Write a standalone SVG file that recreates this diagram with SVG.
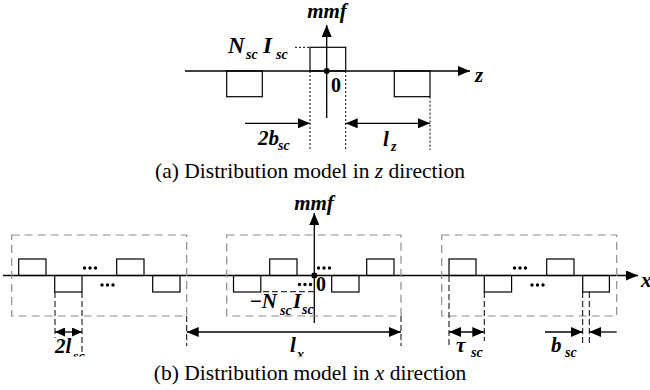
<svg xmlns="http://www.w3.org/2000/svg" width="650" height="390" viewBox="0 0 650 390">
<style>
.ln{stroke:#000;stroke-width:1.3;fill:none}
.sq{stroke:#000;stroke-width:1.2;fill:none}
.dot{stroke:#000;stroke-width:1;stroke-dasharray:2 2;fill:none}
.dsh{stroke:#000;stroke-width:1;stroke-dasharray:6 3;fill:none}
.box{stroke:#8c8c8c;stroke-width:1.2;stroke-dasharray:8 5;fill:none}
.lb{font-family:"Liberation Serif",serif;font-weight:bold;font-style:italic;font-size:21px;fill:#000}
.lg{font-family:"Liberation Serif",serif;font-weight:bold;font-style:italic;font-size:23px;fill:#000}
.sb{font-family:"Liberation Serif",serif;font-weight:bold;font-style:italic;font-size:14px;fill:#000}
.cap{font-family:"Liberation Serif",serif;font-size:21.5px;fill:#000}
.num{font-family:"Liberation Serif",serif;font-weight:bold;font-size:20px;fill:#000}
</style>
<defs>
<marker id="ah" viewBox="0 0 12 10" refX="12" refY="5" markerWidth="12" markerHeight="10" markerUnits="userSpaceOnUse" orient="auto-start-reverse"><path d="M0,0L12,5L0,10z" fill="#000"/></marker>
<marker id="ahs" viewBox="0 0 10 9" refX="10" refY="4.5" markerWidth="10" markerHeight="9" markerUnits="userSpaceOnUse" orient="auto-start-reverse"><path d="M0,0L10,4.5L0,9z" fill="#000"/></marker>
</defs>
<rect width="650" height="390" fill="#fff"/>

<!-- Part (a) -->
<g id="partA-axes">
<line class="ln" x1="185" y1="71" x2="470" y2="71" marker-end="url(#ah)"/>
<line class="ln" x1="326.7" y1="118" x2="326.7" y2="25" marker-end="url(#ah)"/>
<circle cx="326.7" cy="71" r="3" fill="#000"/>
<text class="lb" x="327" y="18" text-anchor="middle">mmf</text>
<text class="lb" x="475" y="82">z</text>
<text class="num" x="331" y="92">0</text>
</g>
<g id="partA-pulses">
<rect class="sq" x="310" y="47.3" width="35.7" height="23.7"/>
<rect class="sq" x="226.7" y="71" width="35.6" height="25.7"/>
<rect class="sq" x="394.3" y="71" width="35.7" height="25.7"/>
<line class="dot" x1="295" y1="47.3" x2="310" y2="47.3"/>
<text class="lg" x="228" y="53">N</text><text class="sb" x="246" y="59">sc</text>
<text class="lg" x="263" y="53">I</text><text class="sb" x="276" y="59">sc</text>
</g>
<g id="partA-connectors">
<line class="dot" x1="310" y1="71" x2="310" y2="150"/>
<line class="dot" x1="345.7" y1="71" x2="345.7" y2="150"/>
<line class="dot" x1="430" y1="96.7" x2="430" y2="150"/>
<line class="ln" x1="245" y1="123.3" x2="310" y2="123.3" marker-end="url(#ah)"/>
<line class="ln" x1="345.7" y1="123.3" x2="430" y2="123.3" marker-start="url(#ah)" marker-end="url(#ah)"/>
<text class="lb" x="258" y="145">2b</text><text class="sb" x="278" y="150">sc</text>
<text class="lb" x="383" y="146">l</text><text class="sb" x="391" y="151">z</text>
</g>
<text class="cap" x="310" y="178" text-anchor="middle">(a) Distribution model in <tspan font-style="italic">z</tspan> direction</text>

<!-- Part (b) -->
<g id="partB-axes">
<line class="ln" x1="3" y1="275.5" x2="638" y2="275.5" marker-end="url(#ah)"/>
<line class="ln" x1="314.3" y1="323" x2="314.3" y2="213" marker-end="url(#ah)"/>
<circle cx="314.3" cy="275.5" r="3" fill="#000"/>
<text class="lb" x="314" y="210" text-anchor="middle">mmf</text>
<text class="lb" x="641" y="287">x</text>
<text class="num" x="316" y="291" font-size="18">0</text>
</g>
<g id="group1">
<rect class="box" x="11.7" y="235" width="175" height="81"/>
<rect class="sq" x="18.7" y="259" width="27.3" height="16.5"/>
<rect class="sq" x="54.7" y="275.5" width="27.3" height="16.5"/>
<rect class="sq" x="116.7" y="259" width="27.3" height="16.5"/>
<rect class="sq" x="152.7" y="275.5" width="27.3" height="16.5"/>
<g fill="#000"><circle cx="84.5" cy="268" r="1.7"/><circle cx="90" cy="268" r="1.7"/><circle cx="95.5" cy="268" r="1.7"/>
<circle cx="102" cy="285" r="1.7"/><circle cx="107.5" cy="285" r="1.7"/><circle cx="113" cy="285" r="1.7"/></g>
</g>
<g id="group2">
<rect class="box" x="226.7" y="235" width="174.3" height="81"/>
<rect class="sq" x="233.5" y="275.5" width="27.3" height="16.5"/>
<rect class="sq" x="269.7" y="259" width="27.3" height="16.5"/>
<rect class="sq" x="331.7" y="275.5" width="27.3" height="16.5"/>
<rect class="sq" x="366.7" y="259" width="27.3" height="16.5"/>
<g fill="#000"><circle cx="318.5" cy="268" r="1.7"/><circle cx="324" cy="268" r="1.7"/><circle cx="329.5" cy="268" r="1.7"/>
<circle cx="299.5" cy="284.5" r="1.7"/><circle cx="305" cy="284.5" r="1.7"/><circle cx="310.5" cy="284.5" r="1.7"/></g>
<line class="dsh" x1="263" y1="291.7" x2="314" y2="291.7"/>
<text class="lb" x="249" y="308">−N</text><text class="sb" x="280" y="315">sc</text>
<text class="lb" x="293" y="308">I</text><text class="sb" x="302" y="314">sc</text>
</g>
<g id="group3">
<rect class="box" x="441.7" y="235" width="175" height="81"/>
<rect class="sq" x="449" y="259" width="27" height="16.5"/>
<rect class="sq" x="484.3" y="275.5" width="27.3" height="16.5"/>
<rect class="sq" x="546.7" y="259" width="27.3" height="16.5"/>
<rect class="sq" x="582.7" y="275.5" width="26.7" height="16.5"/>
<g fill="#000"><circle cx="514.5" cy="268" r="1.7"/><circle cx="520" cy="268" r="1.7"/><circle cx="525.5" cy="268" r="1.7"/>
<circle cx="532" cy="285" r="1.7"/><circle cx="537.5" cy="285" r="1.7"/><circle cx="543" cy="285" r="1.7"/></g>
</g>
<g id="partB-connectors">
<line class="dsh" x1="55" y1="292" x2="55" y2="338"/>
<line class="dsh" x1="82" y1="292" x2="82" y2="352"/>
<line class="dsh" x1="186.7" y1="316" x2="186.7" y2="346"/>
<line class="dsh" x1="401" y1="316" x2="401" y2="346"/>
<line class="dsh" x1="449" y1="276" x2="449" y2="347"/>
<line class="dsh" x1="484.3" y1="292" x2="484.3" y2="341"/>
<line class="dsh" x1="582.7" y1="292" x2="582.7" y2="346"/>
<line class="dsh" x1="589.3" y1="292" x2="589.3" y2="346"/>
<line class="ln" x1="55" y1="332" x2="82" y2="332" marker-start="url(#ahs)" marker-end="url(#ahs)"/>
<line class="ln" x1="186.7" y1="332" x2="401" y2="332" marker-start="url(#ah)" marker-end="url(#ah)"/>
<line class="ln" x1="449" y1="332" x2="484.3" y2="332" marker-start="url(#ah)" marker-end="url(#ah)"/>
<line class="ln" x1="545" y1="332" x2="582.7" y2="332" marker-end="url(#ah)"/>
<line class="ln" x1="616.7" y1="332" x2="589.3" y2="332" marker-end="url(#ah)"/>
<text class="lb" x="55" y="353">2l</text><text class="sb" x="73" y="361">sc</text>
<text class="lb" x="290" y="352">l</text><text class="sb" x="297" y="359">x</text>
<text class="lb" x="456" y="352">τ</text><text class="sb" x="471" y="357">sc</text>
<text class="lb" x="551" y="352">b</text><text class="sb" x="565" y="357">sc</text>
</g>
<rect x="30" y="356.5" width="410" height="33.5" fill="#fff"/>
<text class="cap" x="310" y="380" text-anchor="middle">(b) Distribution model in <tspan font-style="italic">x</tspan> direction</text>
</svg>
